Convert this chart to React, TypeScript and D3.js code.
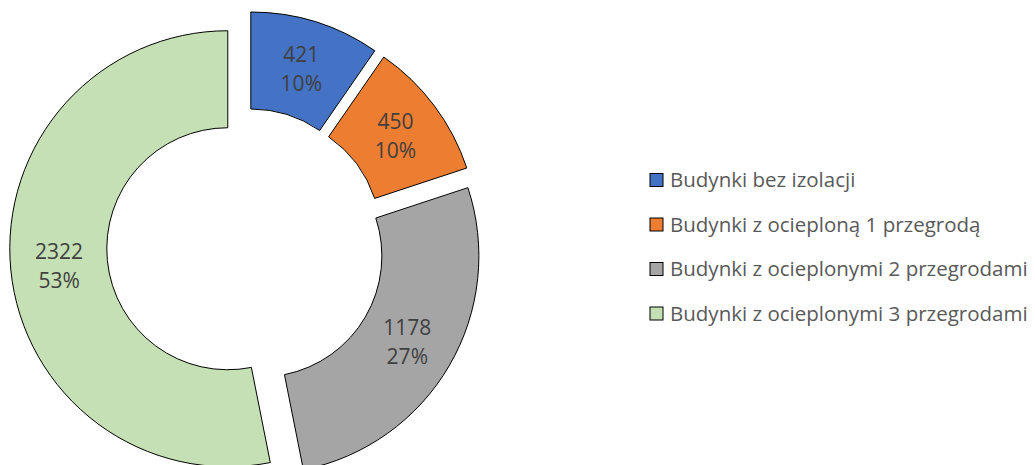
import React from "react";
import * as d3 from "d3";

const categories = [
  "Budynki bez izolacji",
  "Budynki z ocieploną 1 przegrodą",
  "Budynki z ocieplonymi 2 przegrodami",
  "Budynki z ocieplonymi 3 przegrodami",
];
const values = [421, 450, 1178, 2322];
const colors = ["#4472C4", "#ED7D31", "#A5A5A5", "#C5E0B4"];

const W = 1035;
const H = 465;
const CX = 245.5;
const CY = 247;
const R_OUT = 218;
const R_IN = 121;
const EXPLODE = 17.8;
const FONT = "'Open Sans', 'Noto Sans', sans-serif";

export default function App() {
  const total = d3.sum(values);
  const pie = d3.pie<number>().sort(null).value((v) => v).startAngle(0).endAngle(2 * Math.PI);
  const arcs = pie(values);
  const arc = d3.arc<d3.PieArcDatum<number>>().innerRadius(R_IN).outerRadius(R_OUT);
  const pctFmt = (v: number) => `${Math.round((v / total) * 100)}%`;

  const legendX = 650;
  const legendY0 = 180;
  const legendStep = 44.5;

  return (
    <svg width={W} height={H} style={{ position: "absolute", left: 0, top: 0, background: "#fff" }}>
      <g transform={`translate(${CX},${CY})`}>
        {arcs.map((a, i) => {
          const mid = (a.startAngle + a.endAngle) / 2;
          const dx = Math.sin(mid) * EXPLODE;
          const dy = -Math.cos(mid) * EXPLODE;
          const [lx, ly] = arc.centroid(a);
          return (
            <g key={i} transform={`translate(${dx},${dy})`}>
              <path d={arc(a) || ""} fill={colors[i]} stroke="#000" strokeWidth={1} />
              <text
                x={lx}
                y={ly}
                textAnchor="middle"
                fontFamily={FONT}
                fontSize={21}
                fill="#404040"
              >
                <tspan x={lx} y={ly - 6}>{values[i]}</tspan>
                <tspan x={lx} y={ly + 23}>{pctFmt(values[i])}</tspan>
              </text>
            </g>
          );
        })}
      </g>
      <g>
        {categories.map((c, i) => {
          const y = legendY0 + i * legendStep;
          return (
            <g key={c}>
              <rect x={legendX} y={y - 6.5} width={13} height={13} fill={colors[i]} stroke="#000" strokeWidth={1} />
              <text x={legendX + 20} y={y} dy="0.35em" fontFamily={FONT} fontSize={20.5} fill="#595959">
                {c}
              </text>
            </g>
          );
        })}
      </g>
    </svg>
  );
}
